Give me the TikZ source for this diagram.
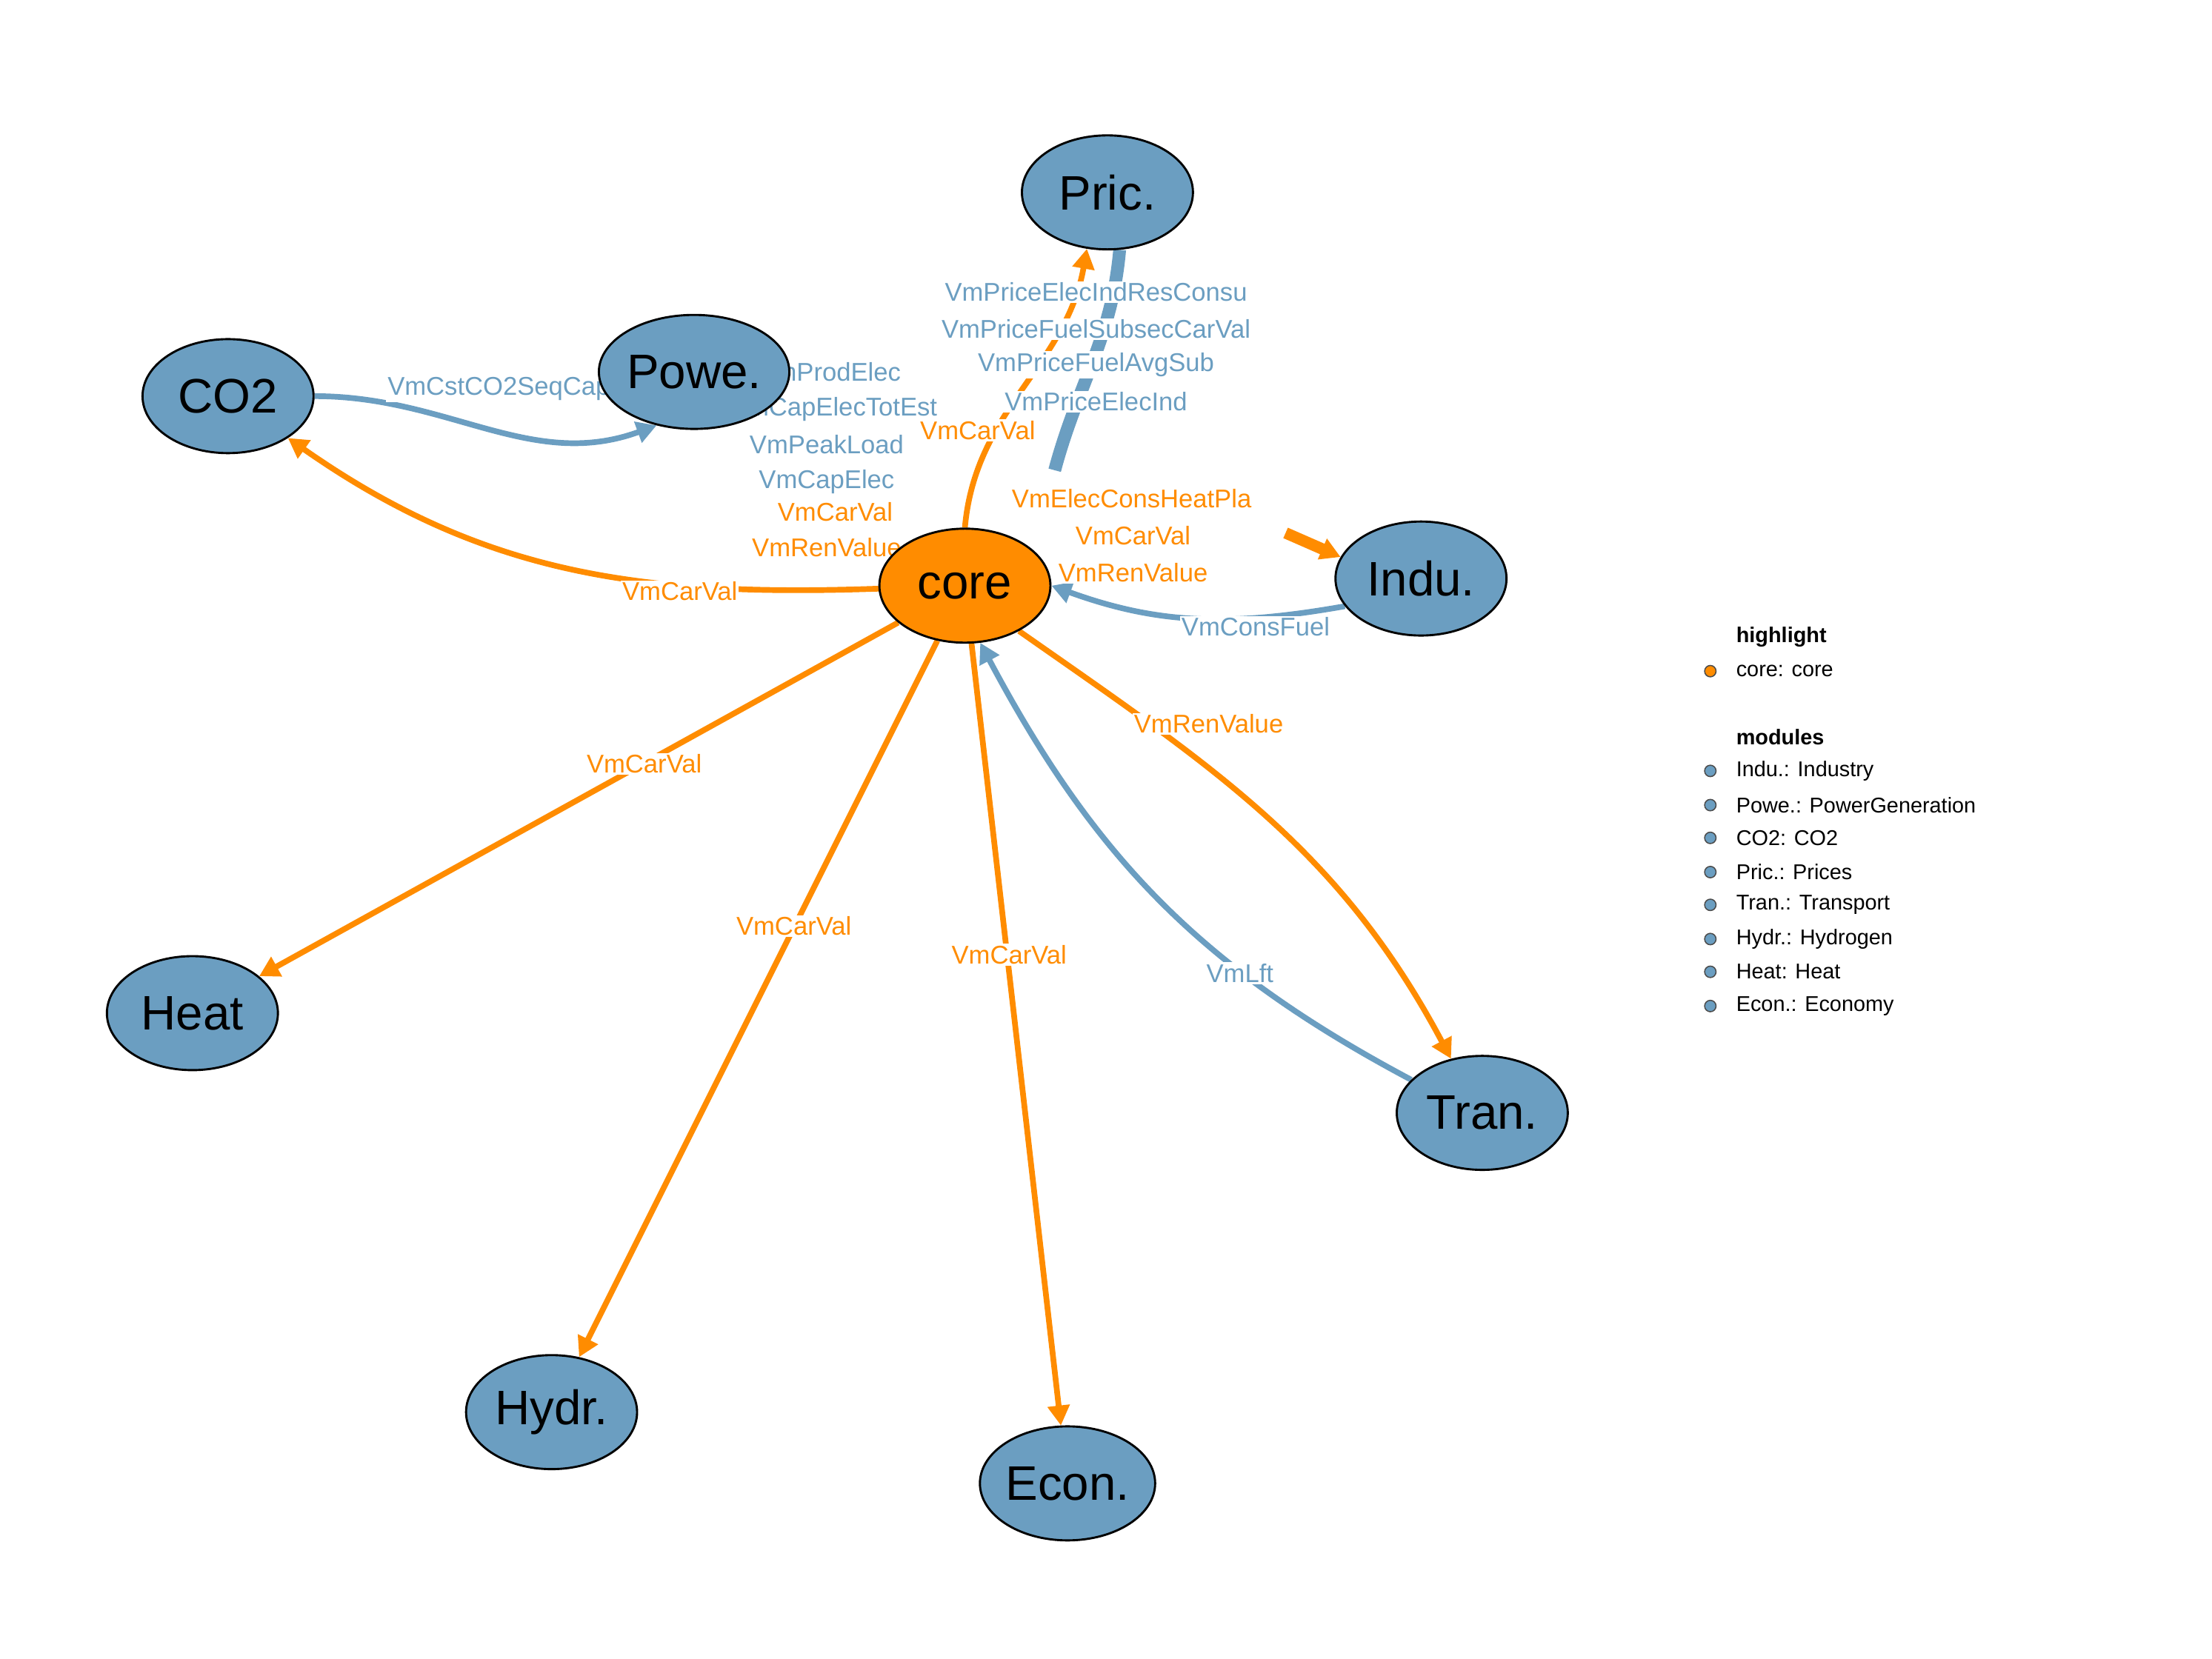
\documentclass[tikz,border=0pt]{standalone}
\usepackage{fontspec}
\setmainfont{Liberation Sans}
\usetikzlibrary{shapes.geometric,arrows.meta}
\definecolor{org}{HTML}{FF8C00}
\definecolor{blu}{HTML}{6B9EC1}
\pgfdeclarelayer{edges}\pgfdeclarelayer{labels}
\pgfsetlayers{edges,labels,main}
\begin{document}
\begin{tikzpicture}[x=1pt,y=-1pt,
  mod/.style={ellipse,draw=black,line width=1.5pt,fill=blu,minimum width=120pt,minimum height=80pt,inner sep=0pt,font=\fontsize{34}{34}\selectfont},
  oe/.style={draw=org,line width=4pt,-{Triangle[length=14pt,width=15pt]}},
  be/.style={draw=blu,line width=4pt,-{Triangle[length=14pt,width=15pt]}},
  ol/.style={text=org,fill=white,inner sep=1pt,font=\fontsize{18}{18}\selectfont},
  bl/.style={text=blu,fill=white,inner sep=1pt,font=\fontsize{18}{18}\selectfont},
  lg/.style={anchor=west,font=\fontsize{15}{15}\selectfont,inner sep=0pt},
  dot/.style={circle,draw=black!70,line width=0.8pt,minimum size=8pt,inner sep=0pt}]
\useasboundingbox (0,0) rectangle (1552,1164);
\node[mod] (Pric) at (777,135) {Pric.};
\node[mod] (Powe) at (487,261) {Powe.};
\node[mod] (CO2) at (160,278) {CO2};
\node[mod,fill=org] (core) at (677,411) {core};
\node[mod] (Indu) at (997,406) {Indu.};
\node[mod] (Heat) at (135,711) {Heat};
\node[mod] (Tran) at (1040,781) {Tran.};
\node[mod] (Hydr) at (387,991) {Hydr.};
\node[mod] (Econ) at (749,1041) {Econ.};
\coordinate (ci) at (902,374);
\coordinate (pb) at (740,330);
\begin{pgfonlayer}{edges}
\draw[oe] (core) to[out=182,in=-35] (CO2);
\draw[be] (CO2.east) to[out=0,in=200] (Powe.235);
\draw[oe] (core.north) to[out=85,in=-100] (Pric.250);
\draw[draw=blu,line width=9pt] (Pric.282) to[out=-95,in=75] (pb);
\draw[oe,line width=8pt] (ci) -- (Indu.165);
\draw[be] (Indu.200) to[out=190,in=-20] (core.east);
\draw[oe] (core.-40) to[out=-35,in=118] (Tran.120);
\draw[be] (Tran.155) to[out=152,in=-62] (core.-75);
\draw[oe] (core) -- (Heat);
\draw[oe] (core) -- (Hydr);
\draw[oe] (core) -- (Econ);
\end{pgfonlayer}
\begin{pgfonlayer}{labels}
\node[ol] (l1) at (477,415) {VmCarVal};
\node[bl] (l2) at (350,273) {VmCstCO2SeqCap};
\node[bl] (l3) at (582,261) {VmProdElec};
\node[bl] (l4) at (585,287) {VmCapElecTotEst};
\node[bl] (l5) at (580,312) {VmPeakLoad};
\node[bl] (l6) at (580,338) {VmCapElec};
\node[ol] (l7) at (586,359) {VmCarVal};
\node[ol] (l8) at (580,384) {VmRenValue};
\node[bl] (l9) at (769,205) {VmPriceElecIndResConsu};
\node[bl] (l10) at (769,231) {VmPriceFuelSubsecCarVal};
\node[bl] (l11) at (769,256) {VmPriceFuelAvgSub};
\node[bl] (l12) at (769,282) {VmPriceElecInd};
\node[ol] (l13) at (686,302) {VmCarVal};
\node[ol] (l14) at (794,350) {VmElecConsHeatPla};
\node[ol] (l15) at (795,376) {VmCarVal};
\node[ol] (l16) at (795,402) {VmRenValue};
\node[bl] (l17) at (881,440) {VmConsFuel};
\node[ol] (l18) at (848,508) {VmRenValue};
\node[bl] (l19) at (870,683) {VmLft};
\node[ol] (l20) at (452,536) {VmCarVal};
\node[ol] (l21) at (557,650) {VmCarVal};
\node[ol] (l22) at (708,670) {VmCarVal};
\end{pgfonlayer}
\node[lg,font=\fontsize{15}{15}\selectfont\bfseries] (h1) at (1218,447) {highlight};
\node[dot,fill=org] (d0) at (1200,471) {};
\node[lg] (t0) at (1218,471) {core: core};
\node[lg,font=\fontsize{15}{15}\selectfont\bfseries] (h2) at (1218,517) {modules};
\foreach \i/\t [count=\k] in {541/Indu.: Industry,565/Powe.: PowerGeneration,588/CO2: CO2,612/Pric.: Prices,635/Tran.: Transport,659/Hydr.: Hydrogen,682/Heat: Heat,706/Econ.: Economy}{
  \node[dot,fill=blu] (d\k) at (1200,\i) {};
  \node[lg] (t\k) at (1218,\i) {\t};
}
\end{tikzpicture}
\end{document}
